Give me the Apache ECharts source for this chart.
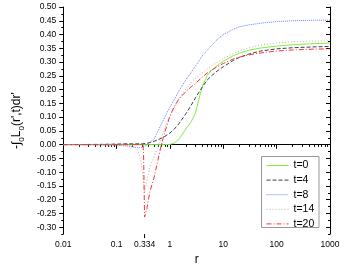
<!DOCTYPE html>
<html><head><meta charset="utf-8">
<script src="https://cdn.jsdelivr.net/npm/echarts@6/dist/echarts.min.js"></script>
<style>html,body{margin:0;padding:0;background:#fff}#c{width:351px;height:271px}</style>
</head><body><div id="c"></div>
<script>
const rValues = [0.01, 0.05, 0.1, 0.15, 0.2, 0.25, 0.28, 0.31, 0.32, 0.334, 0.37, 0.42, 0.5, 0.6, 0.7, 0.8, 1, 1.2, 1.5, 2, 2.5, 3, 4, 5, 6, 8, 10, 15, 20, 30, 50, 100, 200, 500, 1000];
const t0Values  = [0, 0, 0, 0, 0, 0, 0, 0, 0, 0, 0, 0, 0, 0, 0, 0, 0.001, 0.005, 0.022, 0.058, 0.083, 0.115, 0.21, 0.252, 0.27, 0.29, 0.303, 0.322, 0.332, 0.343, 0.351, 0.358, 0.363, 0.367, 0.369];
const t4Values  = [0, 0.001, 0.002, 0.003, 0.003, 0.003, 0.003, 0.003, 0.003, 0.004, 0.005, 0.008, 0.012, 0.018, 0.024, 0.03, 0.042, 0.056, 0.078, 0.113, 0.143, 0.17, 0.208, 0.235, 0.25, 0.27, 0.283, 0.305, 0.317, 0.329, 0.34, 0.348, 0.352, 0.355, 0.357];
const t8Values  = [0, -0.001, -0.002, -0.005, -0.008, -0.011, -0.011, -0.009, -0.008, -0.006, -0.001, 0.008, 0.02, 0.05, 0.077, 0.1, 0.137, 0.163, 0.198, 0.236, 0.262, 0.285, 0.322, 0.343, 0.36, 0.385, 0.4, 0.418, 0.428, 0.435, 0.441, 0.447, 0.45, 0.452, 0.452];
const t14Values = [0, 0, 0, -0.001, -0.004, -0.02, -0.055, -0.11, -0.135, -0.175, -0.13, -0.08, -0.045, -0.005, 0.03, 0.062, 0.1, 0.134, 0.168, 0.203, 0.226, 0.241, 0.261, 0.275, 0.286, 0.301, 0.313, 0.33, 0.34, 0.352, 0.362, 0.37, 0.374, 0.376, 0.377];
const t20Values = [0, 0, 0, 0, 0, 0, 0, 0, -0.03, -0.263, -0.232, -0.171, -0.122, -0.053, 0.005, 0.045, 0.105, 0.138, 0.168, 0.193, 0.21, 0.222, 0.245, 0.26, 0.27, 0.285, 0.295, 0.31, 0.318, 0.326, 0.333, 0.34, 0.344, 0.347, 0.348];
const seriesNames = ['t=0', 't=4', 't=8', 't=14', 't=20'];
const yTicks = [-0.30, -0.25, -0.20, -0.15, -0.10, -0.05, 0.00, 0.05, 0.10, 0.15, 0.20, 0.25, 0.30, 0.35, 0.40, 0.45, 0.50];
const xTickLabels = ['0.01', '0.1', '1', '10', '100', '1000'];
const extraXTick = 0.334;
const extraXLabel = '0.334';

const FONT = 'Liberation Sans, Arial, sans-serif';
const colors = ['#80f040', '#404040', '#6a80ff', '#b4b4b4', '#ff3030'];
const dashes = ['solid', [4, 2], [1, 1], [1, 2], [5, 2, 1, 2]];
const yMinor = [];
for (let k = -13; k <= 20; k++) { if (k % 2 !== 0) yMinor.push(+(k * 0.025).toFixed(3)); }

const chart = echarts.init(document.getElementById('c'), null, {renderer: 'canvas'});

function mk(i, vals) {
  return {
    name: seriesNames[i], type: 'line', xAxisIndex: 0, yAxisIndex: 0,
    data: rValues.map((r, k) => [r, vals[k]]),
    symbol: 'none', showSymbol: false, animation: false,
    lineStyle: {color: colors[i], width: 1, type: dashes[i]}, itemStyle: {color: colors[i]}
  };
}
const axisLine = {show: true, lineStyle: {color: '#000', width: 1}};
const xBase = {type: 'log', logBase: 10, min: 0.01, max: 1000, splitLine: {show: false}};
const yBase = {type: 'value', min: -0.325, max: 0.5, splitLine: {show: false}};

chart.setOption({
  animation: false,
  backgroundColor: '#fff',
  grid: {left: 45, right: 21, top: 7, bottom: 31},
  xAxis: [
    Object.assign({}, xBase, {
      position: 'bottom', axisLine,
      axisTick: {show: true, length: 4, lineStyle: {color: '#000'}},
      minorTick: {show: true, splitNumber: 9, length: 2, lineStyle: {color: '#000'}},
      axisLabel: {show: true, margin: 6, fontSize: 8.5, color: '#000', fontFamily: FONT,
        formatter: v => { const s = String(v); return xTickLabels.indexOf(s) >= 0 ? s : ''; }},
      name: 'r', nameLocation: 'middle', nameGap: 18,
      nameTextStyle: {fontSize: 12, color: '#000', fontFamily: FONT}
    }),
    Object.assign({}, xBase, {
      position: 'top', axisLine,
      axisTick: {show: true, inside: true, length: 4, lineStyle: {color: '#000'}},
      minorTick: {show: true, splitNumber: 9, length: 2, lineStyle: {color: '#000'}},
      axisLabel: {show: false}
    })
  ],
  yAxis: [
    Object.assign({}, yBase, {
      position: 'left', axisLine,
      axisTick: {show: true, length: 4, customValues: yTicks, lineStyle: {color: '#000'}},
      axisLabel: {show: true, margin: 7, fontSize: 8.5, color: '#000', fontFamily: FONT,
        customValues: yTicks, formatter: v => v.toFixed(2)},
      name: "-∫{s|0}L{s|0}(r',t)dr'", nameLocation: 'middle', nameGap: 35, nameRotate: 90,
      nameTextStyle: {fontSize: 12, lineHeight: 18, color: '#000', fontFamily: FONT,
        rich: {s: {fontSize: 8, lineHeight: 9, verticalAlign: 'bottom', color: '#000', fontFamily: FONT}}}
    }),
    Object.assign({}, yBase, {
      position: 'left', axisLine: {show: false},
      axisTick: {show: true, length: 2, customValues: yMinor, lineStyle: {color: '#000'}},
      axisLabel: {show: false}
    }),
    Object.assign({}, yBase, {
      position: 'right', axisLine,
      axisTick: {show: true, inside: true, length: 4, customValues: yTicks, lineStyle: {color: '#000'}},
      axisLabel: {show: false}
    }),
    Object.assign({}, yBase, {
      position: 'right', axisLine: {show: false},
      axisTick: {show: true, inside: true, length: 2, customValues: yMinor, lineStyle: {color: '#000'}},
      axisLabel: {show: false}
    })
  ],
  legend: {
    orient: 'vertical', left: 262, top: 156,
    padding: [4, 4, 4, 4], itemGap: 3.6, itemWidth: 22, itemHeight: 10,
    borderWidth: 0, backgroundColor: 'transparent',
    itemStyle: {opacity: 0, borderWidth: 0},
    textStyle: {fontSize: 10.5, color: '#000', fontFamily: FONT},
    data: seriesNames.map((n, i) => ({name: n, lineStyle: {color: colors[i], width: 1, type: dashes[i]}}))
  },
  graphic: [
    {type: 'rect', z: 3, silent: true, shape: {x: 261.5, y: 156.5, width: 57.5, height: 71},
     style: {fill: '#fff', stroke: '#999', lineWidth: 1}}
  ],
  series: [mk(0, t0Values), mk(1, t4Values), mk(2, t8Values), mk(3, t14Values), mk(4, t20Values)]
});

const px = chart.convertToPixel({xAxisIndex: 0}, extraXTick);
const py = chart.convertToPixel({yAxisIndex: 0}, -0.325);
chart.setOption({
  graphic: [
    {type: 'rect', z: 3, silent: true, shape: {x: 261.5, y: 156.5, width: 57.5, height: 71},
     style: {fill: '#fff', stroke: '#999', lineWidth: 1}},
    {type: 'line', shape: {x1: px, y1: py, x2: px, y2: py + 4}, style: {stroke: '#000', lineWidth: 1}, silent: true},
    {type: 'text', x: px, y: py + 6, style: {text: extraXLabel, fontSize: 8.5, fill: '#000', fontFamily: FONT, align: 'center', verticalAlign: 'top'}, silent: true}
  ]
});
</script></body></html>
